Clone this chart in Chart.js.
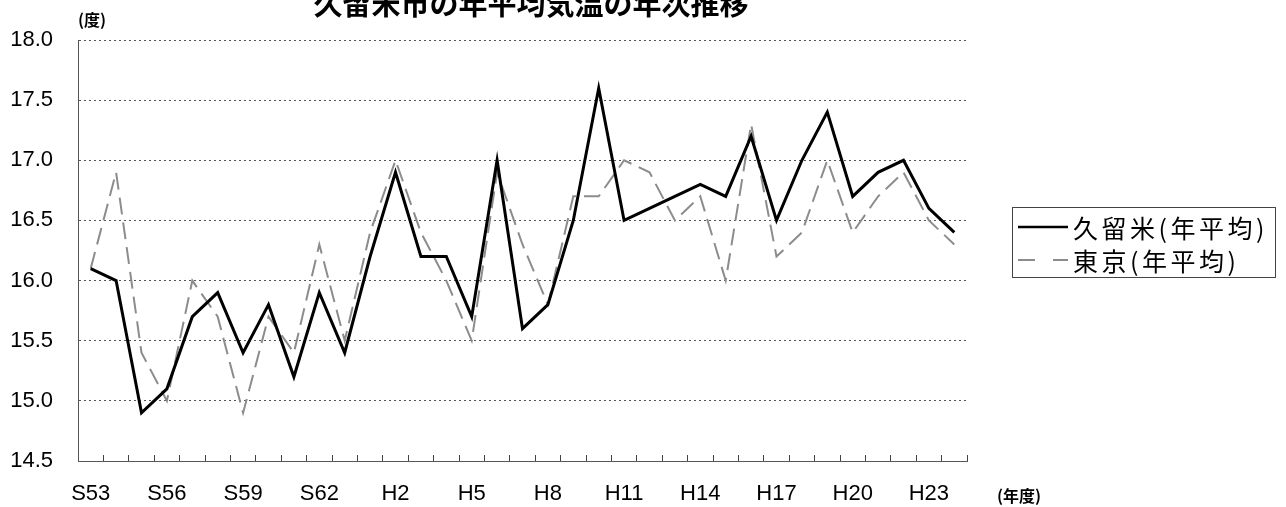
<!DOCTYPE html>
<html lang="ja">
<head>
<meta charset="utf-8">
<title>久留米市の年平均気温の年次推移</title>
<script src="https://cdn.jsdelivr.net/npm/chart.js@4.4.1/dist/chart.umd.min.js"></script>
<style>
  html, body { margin: 0; padding: 0; background: #fff; }
  #wrap { position: relative; width: 1286px; height: 507px; overflow: hidden; font-family: "Noto Sans CJK JP", sans-serif; color: #000; }
  #chartBox { position: absolute; left: 0; top: 0; width: 1286px; height: 507px; }
  #title { position: absolute; left: 0; top: -12px; width: 1062px; text-align: center; font-size: 29px; line-height: 29px; font-weight: bold; white-space: nowrap; }
  #unitY { position: absolute; left: 78px; top: 11px; font-size: 16px; line-height: 16px; font-weight: bold; }
  #unitX { position: absolute; left: 997px; top: 487px; font-size: 16px; line-height: 16px; font-weight: bold; }
  #legend { position: absolute; left: 1012px; top: 207px; width: 264px; height: 71px; box-sizing: border-box; border: 1px solid #444; padding: 2px 0 0 5px; }
  .row { display: flex; align-items: center; height: 33px; }
  .row svg { width: 52px; height: 10px; margin-right: 3px; }
  .row span { font-size: 25px; line-height: 28px; letter-spacing: 3.5px; white-space: nowrap; }
</style>
</head>
<body>
<div id="wrap">
  <div id="chartBox"><canvas id="tempChart"></canvas></div>
  <div id="title">久留米市の年平均気温の年次推移</div>
  <div id="unitY">(度)</div>
  <div id="unitX">(年度)</div>
  <div id="legend">
    <div class="row">
      <svg viewBox="0 0 52 10"><line x1="0" y1="5" x2="50" y2="5" stroke="#000" stroke-width="2.5"/></svg>
      <span>久留米(年平均)</span>
    </div>
    <div class="row">
      <svg viewBox="0 0 52 10"><line x1="0" y1="5" x2="50" y2="5" stroke="#8c8c8c" stroke-width="2" stroke-dasharray="17 18"/></svg>
      <span>東京(年平均)</span>
    </div>
  </div>
</div>
<script>
// 年度ラベル (S53〜H24)
const yearLabels = ['S53','S54','S55','S56','S57','S58','S59','S60','S61','S62','S63',
  'H1','H2','H3','H4','H5','H6','H7','H8','H9','H10','H11','H12','H13','H14','H15',
  'H16','H17','H18','H19','H20','H21','H22','H23','H24'];

// 久留米 年平均気温
const kurumeTemps = [16.1, 16.0, 14.9, 15.1, 15.7, 15.9, 15.4, 15.8, 15.2, 15.9, 15.4,
  16.2, 16.9, 16.2, 16.2, 15.7, 17.0, 15.6, 15.8, 16.5, 17.6, 16.5, 16.6, 16.7, 16.8, 16.7,
  17.2, 16.5, 17.0, 17.4, 16.7, 16.9, 17.0, 16.6, 16.4];

// 東京 年平均気温
const tokyoTemps = [16.1, 16.9, 15.4, 15.0, 16.0, 15.7, 14.9, 15.7, 15.4, 16.3, 15.5,
  16.4, 17.0, 16.4, 16.0, 15.5, 16.9, 16.3, 15.8, 16.7, 16.7, 17.0, 16.9, 16.5, 16.7, 16.0,
  17.3, 16.2, 16.4, 17.0, 16.4, 16.7, 16.9, 16.5, 16.3];

// 縦軸の目盛り
const yTicks = [14.5, 15.0, 15.5, 16.0, 16.5, 17.0, 17.5, 18.0];

const ctx = document.getElementById('tempChart').getContext('2d');
const labelFont = { family: '"Liberation Sans", Arial, sans-serif', size: 22 };

new Chart(ctx, {
  type: 'line',
  data: {
    labels: yearLabels,
    datasets: [
      {
        label: '久留米(年平均)',
        data: kurumeTemps,
        borderColor: '#000',
        borderWidth: 3,
        pointRadius: 0,
        tension: 0,
        fill: false
      },
      {
        label: '東京(年平均)',
        data: tokyoTemps,
        borderColor: '#8c8c8c',
        borderWidth: 2,
        borderDash: [17, 8],
        pointRadius: 0,
        tension: 0,
        fill: false
      }
    ]
  },
  options: {
    responsive: true,
    maintainAspectRatio: false,
    animation: false,
    layout: { padding: { top: 40, right: 319, bottom: 0, left: 0 } },
    plugins: { legend: { display: false }, tooltip: { enabled: false } },
    scales: {
      x: {
        offset: true,
        grid: { offset: true, drawOnChartArea: false, drawTicks: true, tickLength: -6, color: '#444' },
        border: { color: '#555', width: 1 },
        ticks: {
          autoSkip: false,
          maxRotation: 0,
          padding: 26,
          color: '#000',
          font: labelFont,
          callback: (v, i) => (i % 3 === 0 ? yearLabels[i] : '')
        },
        afterFit: s => { s.height = 46; }
      },
      y: {
        min: yTicks[0],
        max: yTicks[yTicks.length - 1],
        afterBuildTicks: s => { s.ticks = yTicks.map(v => ({ value: v })); },
        grid: { color: '#555', lineWidth: 1, drawTicks: false },
        border: { color: '#555', width: 1, dash: [2, 3] },
        ticks: {
          padding: 25,
          color: '#000',
          font: { family: '"Liberation Sans", Arial, sans-serif', size: 22 },
          callback: v => Number(v).toFixed(1)
        },
        afterFit: s => { s.width = 78; }
      }
    }
  }
});
</script>
</body>
</html>
